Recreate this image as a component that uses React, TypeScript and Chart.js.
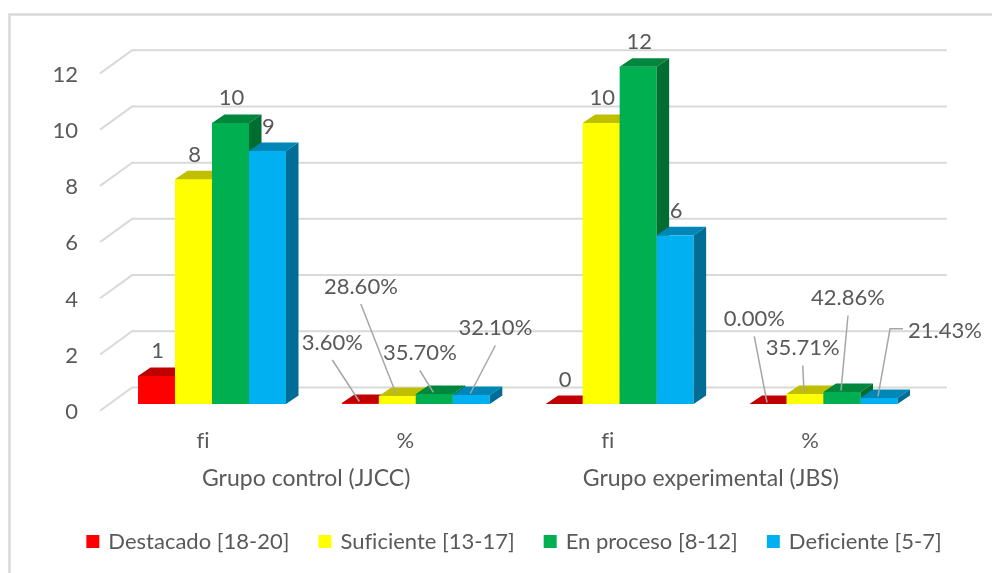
import React, { useEffect, useRef } from "react";
import { Chart, registerables } from "chart.js";

Chart.register(...registerables);

// ---- data ----
const CATEGORIES = ["fi", "%", "fi", "%"];
const GROUPS = ["Grupo control (JJCC)", "Grupo experimental (JBS)"];
const SERIES_NAMES = ["Destacado [18-20]", "Suficiente [13-17]", "En proceso [8-12]", "Deficiente [5-7]"];
// fi = counts, % = fractions
const DESTACADO = [1, 0.036, 0, 0];
const SUFICIENTE = [8, 0.286, 10, 0.3571];
const EN_PROCESO = [10, 0.357, 12, 0.4286];
const DEFICIENTE = [9, 0.321, 6, 0.2143];
const Y_TICKS = [0, 2, 4, 6, 8, 10, 12];

// ---- styles ----
const FRONT_COLORS = ["#ff0000", "#ffff00", "#00b050", "#00b0f0"];
const TOP_COLORS = ["#c00000", "#bfbf00", "#00873d", "#0087b8"];
const SIDE_COLORS = ["#9c0000", "#9c9c00", "#006d31", "#006d96"];
const FONT = "22px Lato";
const GROUP_FONT = "23px Lato";
const TEXT_COLOR = "#595959";
const GRID_COLOR = "#d9d9d9";
const DEPTH_X = 12.5;
const DEPTH_Y = -8.5;
// manual placement of percentage labels (offset of text centre from bar centre / baseline)
const PCT_LABEL_LAYOUT = [
  [[-28, -62, 0], [-36.5, -118, 0], [-14.5, -51.5, 0], [24, -76.5, 0]],
  [[-13.7, -85.7, 0], [-2.2, -56.5, 0], [6, -106.5, 0], [66, -73.2, 1]],
];

function noLigatures(ctx: any) {
  try {
    ctx.textRendering = "optimizeSpeed";
  } catch (e) {}
}

const excel3d = {
  id: "excel3d",
  beforeDraw(chart: any) {
    const ctx = chart.ctx;
    ctx.save();
    ctx.fillStyle = "#ffffff";
    ctx.fillRect(0, 0, chart.width, chart.height);
    ctx.strokeStyle = GRID_COLOR;
    ctx.lineWidth = 2.5;
    ctx.beginPath();
    ctx.moveTo(9.5, chart.height);
    ctx.lineTo(9.5, 14.5);
    ctx.lineTo(chart.width, 14.5);
    ctx.stroke();
    ctx.restore();
  },
  beforeDatasetsDraw(chart: any) {
    const ctx = chart.ctx;
    const ys = chart.scales.y;
    const xs = chart.scales.x;
    const area = chart.chartArea;
    ctx.save();
    noLigatures(ctx);

    // gridlines (3D wall + floor edge)
    ctx.strokeStyle = GRID_COLOR;
    ctx.lineWidth = 2;
    const frontX = area.left - 10;
    const backX = frontX + 32;
    const endX = area.right + 21.5;
    for (const v of Y_TICKS) {
      const py = ys.getPixelForValue(v);
      ctx.beginPath();
      ctx.moveTo(frontX, py + 6.7);
      ctx.lineTo(backX, py - 16.5);
      ctx.lineTo(endX, py - 16.5);
      ctx.stroke();
    }

    // y tick labels
    ctx.font = FONT;
    ctx.fillStyle = TEXT_COLOR;
    ctx.textAlign = "right";
    ctx.textBaseline = "alphabetic";
    for (const v of Y_TICKS) {
      const py = ys.getPixelForValue(v);
      ctx.fillText(String(v), frontX - 22, py + 15);
    }

    // bars
    const nCat = CATEGORIES.length;
    const nDs = chart.data.datasets.length;
    const geo: any[][] = [];
    for (let j = 0; j < nCat; j++) {
      geo[j] = [];
      for (let i = 0; i < nDs; i++) {
        const el = chart.getDatasetMeta(i).data[j];
        const p = el.getProps(["x", "y", "base", "width"], true);
        geo[j][i] = p;
        const l = p.x - p.width / 2;
        const r = p.x + p.width / 2;
        const top = Math.min(p.y, p.base);
        const base = p.base;
        // front
        ctx.fillStyle = FRONT_COLORS[i];
        if (base - top > 0.2) ctx.fillRect(l, top, p.width, base - top);
        // top
        ctx.fillStyle = TOP_COLORS[i];
        ctx.beginPath();
        ctx.moveTo(l, top);
        ctx.lineTo(l + DEPTH_X, top + DEPTH_Y);
        ctx.lineTo(r + DEPTH_X, top + DEPTH_Y);
        ctx.lineTo(r, top);
        ctx.closePath();
        ctx.fill();
        // side
        ctx.fillStyle = SIDE_COLORS[i];
        ctx.beginPath();
        ctx.moveTo(r, top);
        ctx.lineTo(r + DEPTH_X, top + DEPTH_Y);
        ctx.lineTo(r + DEPTH_X, base + DEPTH_Y);
        ctx.lineTo(r, base);
        ctx.closePath();
        ctx.fill();
      }
    }

    // data labels
    ctx.font = FONT;
    ctx.fillStyle = TEXT_COLOR;
    ctx.textAlign = "center";
    ctx.textBaseline = "alphabetic";
    let pctIdx = 0;
    for (let j = 0; j < nCat; j++) {
      const isPct = CATEGORIES[j] === "%";
      for (let i = 0; i < nDs; i++) {
        const p = geo[j][i];
        const v = chart.data.datasets[i].data[j] as number;
        const top = Math.min(p.y, p.base);
        if (!isPct) {
          ctx.fillText(String(v), p.x + 1, top - 17.5);
        } else {
          const [dx, dy, side] = PCT_LABEL_LAYOUT[pctIdx][i];
          const text = (v * 100).toFixed(2) + "%";
          const cx = p.x + dx;
          const cy = p.base + dy;
          ctx.fillStyle = TEXT_COLOR;
          ctx.fillText(text, cx, cy + 7.5);
          // leader line
          ctx.strokeStyle = "#a6a6a6";
          ctx.lineWidth = 1.5;
          ctx.beginPath();
          if (side === 1) {
            const tl = cx - ctx.measureText(text).width / 2;
            ctx.moveTo(tl - 5, cy - 2);
            ctx.lineTo(tl - 18, cy - 2);
          } else {
            ctx.moveTo(cx, cy + 18);
          }
          ctx.lineTo(p.x - 1, top - 1.5);
          ctx.stroke();
        }
      }
      if (isPct) pctIdx++;
    }

    // category labels
    ctx.fillStyle = TEXT_COLOR;
    ctx.textAlign = "center";
    const catX: number[] = [];
    for (let j = 0; j < nCat; j++) {
      const cx = xs.getPixelForValue(j) - 9 - j * 1.5;
      catX.push(cx);
      ctx.fillText(CATEGORIES[j], cx, 448);
    }
    // group labels
    ctx.font = GROUP_FONT;
    for (let g = 0; g < GROUPS.length; g++) {
      const gx = (catX[g * 2] + catX[g * 2 + 1]) / 2 + 2;
      ctx.fillText(GROUPS[g], gx, 486);
    }

    // legend
    ctx.font = FONT;
    const box = 13;
    const gapBoxText = 9;
    const gapItems = 29;
    const widths = SERIES_NAMES.map((s) => ctx.measureText(s).width);
    const total = widths.reduce((a, w) => a + box + gapBoxText + w, 0) + gapItems * (SERIES_NAMES.length - 1);
    let lx = 514 - total / 2;
    const ly = 541.5;
    ctx.textAlign = "left";
    for (let i = 0; i < SERIES_NAMES.length; i++) {
      ctx.fillStyle = FRONT_COLORS[i];
      ctx.fillRect(lx, ly - box / 2, box, box);
      ctx.fillStyle = TEXT_COLOR;
      ctx.fillText(SERIES_NAMES[i], lx + box + gapBoxText, ly + 7.5);
      lx += box + gapBoxText + widths[i] + gapItems;
    }

    ctx.restore();
    return false;
  },
};

export default function App() {
  const ref = useRef<HTMLCanvasElement | null>(null);
  useEffect(() => {
    if (!ref.current) return;
    const chart = new Chart(ref.current, {
      type: "bar",
      data: {
        labels: CATEGORIES,
        datasets: [
          { label: SERIES_NAMES[0], data: DESTACADO, backgroundColor: FRONT_COLORS[0] },
          { label: SERIES_NAMES[1], data: SUFICIENTE, backgroundColor: FRONT_COLORS[1] },
          { label: SERIES_NAMES[2], data: EN_PROCESO, backgroundColor: FRONT_COLORS[2] },
          { label: SERIES_NAMES[3], data: DEFICIENTE, backgroundColor: FRONT_COLORS[3] },
        ],
      },
      options: {
        responsive: true,
        maintainAspectRatio: false,
        animation: false,
        layout: { padding: { left: 110.1, right: 66.6, top: 66.7, bottom: 169 } },
        datasets: { bar: { categoryPercentage: 0.726, barPercentage: 1 } },
        scales: {
          x: { display: false },
          y: { display: false, min: 0, max: 12 },
        },
        plugins: { legend: { display: false }, tooltip: { enabled: false } },
        events: [],
      },
      plugins: [excel3d],
    });
    if ((document as any).fonts) {
      (document as any).fonts.load(FONT).then(() => chart.draw()).catch(() => {});
    }
    return () => chart.destroy();
  }, []);
  return (
    <div style={{ position: "fixed", left: 0, top: 0, width: 992, height: 573 }}>
      <canvas ref={ref} style={{ display: "block" }} />
    </div>
  );
}
